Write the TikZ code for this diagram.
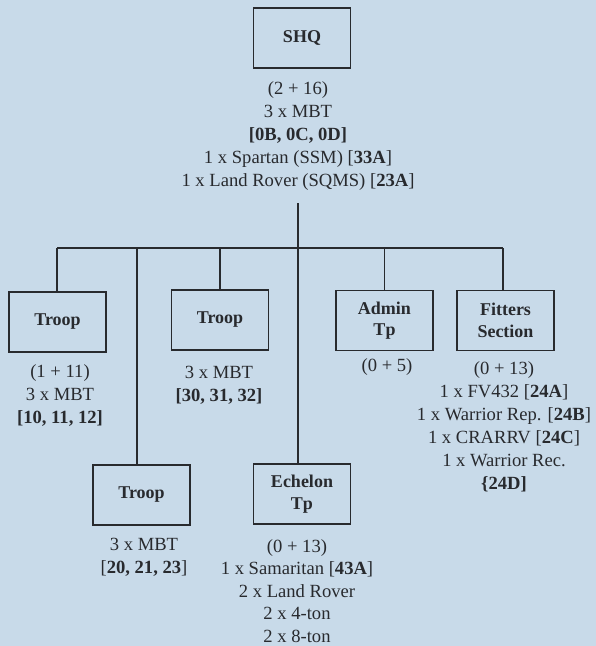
\documentclass[tikz,border=0pt]{standalone}
\usepackage{fontspec}
\setmainfont{Liberation Serif}
\definecolor{bgblue}{RGB}{200,218,233}
\definecolor{ink}{RGB}{40,42,46}
\begin{document}
\begin{tikzpicture}[x=1pt,y=-1pt,
  unitbox/.style={draw=ink, line width=1.1pt, minimum width=97pt, minimum height=60pt,
    inner sep=0pt, align=center, text=ink, font=\fontsize{18}{21.5}\selectfont\bfseries},
  info/.style={inner sep=0pt, align=center, text=ink, font=\fontsize{18.6}{23}\selectfont},
  link/.style={draw=ink, line width=1.1pt}]
\fill[bgblue] (0,0) rectangle (596,646);
\useasboundingbox (0,0) rectangle (596,646);

% boxes
\node[unitbox] (shq) at (302,38) {SHQ};
\node[unitbox] (troopA) at (57.5,322) {Troop};
\node[unitbox] (troopB) at (220,320) {Troop};
\node[unitbox] (admin) at (384.5,320.5) {Admin\\Tp};
\node[unitbox] (fitters) at (505.5,320.5) {Fitters\\Section};
\node[unitbox] (troopC) at (141.5,495) {Troop};
\node[unitbox] (echelon) at (302,494) {Echelon\\Tp};

% texts
\node[info] (shqtxt) at (298,136) {(2 + 16)\\3 x MBT\\\textbf{[0B, 0C, 0D]}\\1 x Spartan (SSM) [\textbf{33A}]\\1 x Land Rover (SQMS) [\textbf{23A}]};
\node[info] (troopAtxt) at (60,395) {(1 + 11)\\3 x MBT\\\textbf{[10, 11, 12]}};
\node[info] (troopBtxt) at (219,385) {3 x MBT\\\textbf{[30, 31, 32]}};
\node[info] (admintxt) at (387,367) {(0 + 5)};
\node[info] (fitterstxt) at (504,427) {(0 + 13)\\1 x FV432 [\textbf{24A}]\\1 x Warrior Rep. [\textbf{24B}]\\1 x CRARRV [\textbf{24C}]\\1 x Warrior Rec.\\\textbf{\{24D]}};
\node[info] (troopCtxt) at (144,557) {3 x MBT\\{[}\textbf{20, 21, 23}{]}};
\node[info, font=\fontsize{18.6}{22.4}\selectfont] (echelontxt) at (297,591) {(0 + 13)\\1 x Samaritan [\textbf{43A}]\\2 x Land Rover\\2 x 4-ton\\2 x 8-ton};

% connectors
\coordinate (stem) at (298,203);
\coordinate (barL) at (57,248);
\coordinate (barR) at (503,248);
\coordinate (dropC) at (137,248);
\draw[link] (stem) -- (stem |- echelon.north);
\draw[link] (barL) -- (barR);
\draw[link] (barL) -- (barL |- troopA.north);
\draw[link] (dropC) -- (dropC |- troopC.north);
\draw[link] (troopB.north) -- (troopB.north |- barL);
\draw[link] (admin.north) -- (admin.north |- barL);
\draw[link] (barR) -- (barR |- fitters.north);
\end{tikzpicture}
\end{document}
